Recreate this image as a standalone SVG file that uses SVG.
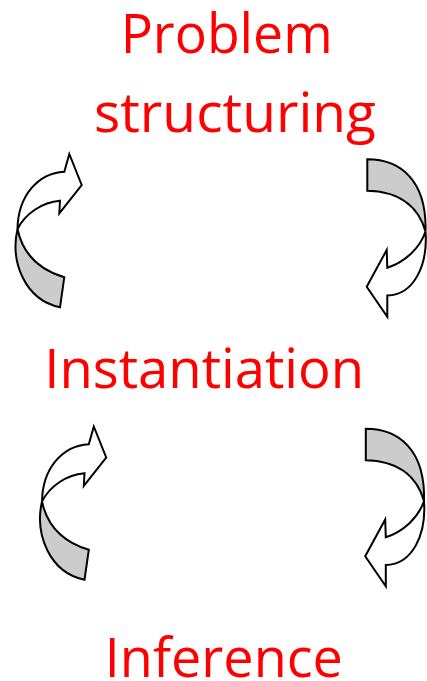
<svg xmlns="http://www.w3.org/2000/svg" xmlns:xlink="http://www.w3.org/1999/xlink" width="427" height="681" viewBox="0 0 427 681">
  <style>
    .label { font-family: "Open Sans", "Liberation Sans", sans-serif; font-size: 55px; fill: #ff0000; text-anchor: middle; }
    .face { fill: #ffffff; stroke: #000000; stroke-width: 2; stroke-linejoin: miter; }
    .back { fill: #cccccc; stroke: #000000; stroke-width: 2; stroke-linejoin: miter; }
  </style>
  <defs>
    <!-- curved arrow sweeping up on the left, head pointing right -->
    <g id="curve-up">
      <path class="back" d="M 17.5 229 C 10 262, 25 300, 60 307.3 L 64.3 277.3 C 40 270, 23 255, 17.5 229 Z"/>
      <path class="face" d="M 17.5 229 C 18 196, 38 173, 64.3 171.7 L 69.3 154 L 81.7 185 L 59.3 213.3 L 60 200.7 C 42 202, 25 214, 17.5 229 Z"/>
    </g>
    <!-- curved arrow sweeping down on the right, head pointing left -->
    <g id="curve-down">
      <path class="back" d="M 367.3 159.3 C 400 159.3, 427 180, 425.5 231.5 C 420 212, 405 191.5, 367.3 190.7 Z"/>
      <path class="face" d="M 425.5 231.5 C 428 265, 414 295, 387.3 295.5 L 387.3 316.7 L 366.7 286.7 L 386.7 250 L 387.3 267.7 C 405 262, 420 248, 425.5 231.5 Z"/>
    </g>
  </defs>

  <g id="connectors">
    <use id="arrow-instantiation-to-structuring" xlink:href="#curve-up"/>
    <use id="arrow-structuring-to-instantiation" xlink:href="#curve-down"/>
    <use id="arrow-inference-to-instantiation" xlink:href="#curve-up" transform="translate(24.5 272.5)"/>
    <use id="arrow-instantiation-to-inference" xlink:href="#curve-down" transform="translate(-1.5 269.5)"/>
  </g>

  <g id="node-problem-structuring">
    <text class="label" x="226.7" y="53.3" textLength="212" lengthAdjust="spacingAndGlyphs">Problem</text>
    <text class="label" x="235" y="131.7" textLength="282" lengthAdjust="spacingAndGlyphs">structuring</text>
  </g>
  <g id="node-instantiation">
    <text class="label" x="204.2" y="388.3" textLength="320" lengthAdjust="spacingAndGlyphs">Instantiation</text>
  </g>
  <g id="node-inference">
    <text class="label" x="223.8" y="676.7" textLength="238" lengthAdjust="spacingAndGlyphs">Inference</text>
  </g>
</svg>
